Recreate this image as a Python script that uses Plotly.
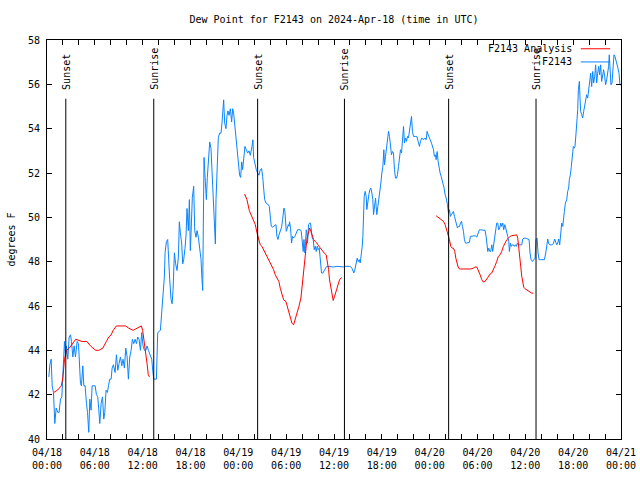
import plotly.graph_objects as go
import pandas as pd

BASE = pd.Timestamp("2024-04-18 00:00")

# Observed dew point (F2143), hours since 2024-04-18 00:00 UTC
obs_hours = [
    0.23, 0.36, 0.52, 0.65, 0.81, 0.98, 1.15, 1.36, 1.52, 1.69, 1.86, 1.94, 2.07, 2.19, 2.32, 2.44,
    2.61, 2.78, 2.95, 3.07, 3.24, 3.40, 3.57, 3.78, 3.95, 4.07, 4.20, 4.32, 4.49, 4.62, 4.78, 4.95,
    5.08, 5.24, 5.37, 5.53, 5.66, 5.87, 6.04, 6.20, 6.37, 6.50, 6.62, 6.79, 6.96, 7.12, 7.25, 7.41,
    7.58, 7.71, 7.87, 8.04, 8.17, 8.33, 8.54, 8.71, 8.88, 9.04, 9.21, 9.38, 9.54, 9.71, 9.88, 10.05,
    10.21, 10.38, 10.55, 10.71, 10.88, 11.05, 11.22, 11.38, 11.55, 11.72, 11.88, 12.05, 12.22, 12.39,
    12.55, 12.72, 12.97, 13.14, 13.26, 13.39, 13.72, 13.80, 13.89, 14.22, 14.43,
    14.56, 14.72, 14.81, 14.98, 15.14, 15.27, 15.39, 15.56, 15.69, 15.81, 15.89, 15.98, 16.14, 16.31,
    16.48, 16.60, 16.73, 16.90, 17.02, 17.15, 17.31, 17.44, 17.56, 17.73, 17.86, 17.98, 18.07, 18.23,
    18.40, 18.53, 18.69, 18.82, 18.99, 19.15, 19.32, 19.44, 19.53, 19.61, 19.70, 19.78, 19.86, 19.99,
    20.11, 20.28, 20.41, 20.57, 20.70, 20.82, 20.99, 21.12, 21.20, 21.32, 21.49, 21.66, 21.83, 21.95,
    22.08, 22.16, 22.29, 22.45, 22.58, 22.70, 22.83, 23.00, 23.16, 23.29, 23.41, 23.54, 23.66, 23.79,
    23.91, 24.04, 24.16, 24.29, 24.42, 24.54, 24.67, 24.83, 25.00, 25.17, 25.33,
    25.50, 25.71, 25.83, 25.92, 26.08, 26.25, 26.42, 26.59, 26.75, 26.92, 27.05, 27.17, 27.30, 27.46,
    27.67, 27.88, 28.01, 28.13, 28.30, 28.51, 28.72, 28.84, 28.97, 29.09, 29.26, 29.43, 29.55, 29.72,
    29.84, 29.93, 30.01, 30.14, 30.26, 30.35, 30.43, 30.55, 30.68, 30.80, 30.93, 31.10, 31.26, 31.43,
    31.60, 31.77, 31.89, 32.02, 32.14, 32.23, 32.35, 32.43, 32.52, 32.60, 32.68, 32.81, 32.94, 33.06,
    33.14, 33.27, 33.39, 33.52, 33.65, 33.77, 33.90, 34.02, 34.15, 34.27, 34.36, 34.44, 34.61, 34.77,
    34.94, 35.11, 35.53, 35.94, 36.36, 36.78, 37.20,
    37.28, 37.62, 38.03, 38.24, 38.37, 38.49, 38.62, 38.79, 38.91, 39.04, 39.16, 39.29, 39.41, 39.54,
    39.62, 39.70, 39.79, 39.91, 40.04, 40.12, 40.25, 40.37, 40.50, 40.62, 40.75, 40.87, 40.96, 41.08,
    41.21, 41.29, 41.37, 41.50, 41.63, 41.75, 41.88, 42.00, 42.13, 42.25, 42.34, 42.46, 42.59, 42.71,
    42.84, 42.96, 43.09, 43.21, 43.34, 43.46, 43.59, 43.71, 43.84, 43.96, 44.09, 44.22, 44.34, 44.47,
    44.59, 44.72, 44.84, 44.97, 45.09, 45.22, 45.34, 45.47, 45.59, 45.72, 45.84, 45.97, 46.18, 46.39,
    46.55, 46.72, 46.85, 47.01, 47.22, 47.43, 47.56, 47.68, 47.81, 47.93, 48.06, 48.23, 48.35, 48.48,
    48.60, 48.73, 48.81, 48.94, 49.06, 49.19, 49.31, 49.44, 49.56,
    49.65, 49.81, 49.94, 50.07, 50.23, 50.36, 50.48, 50.61, 50.73, 50.86, 50.98, 51.11, 51.23, 51.36,
    51.49, 51.61, 51.74, 51.86, 51.99, 52.11, 52.24, 52.36, 52.49, 52.65, 52.86, 52.99, 53.11, 53.28,
    53.49, 53.70, 53.91, 54.12, 54.24, 54.41, 54.62, 54.83, 54.95, 55.08, 55.16, 55.29, 55.41, 55.54,
    55.66, 55.79, 55.91, 56.04, 56.16, 56.29, 56.41, 56.54, 56.66, 56.79, 56.92, 57.04, 57.17, 57.29,
    57.42, 57.54, 57.67, 57.79, 57.92, 58.00, 58.13, 58.25, 58.38, 58.50, 58.63, 58.75, 58.88, 59.00,
    59.13, 59.25,
    59.34, 59.55, 59.67, 59.84, 60.09, 60.34, 60.47, 60.59, 60.72, 60.89, 61.05, 61.22, 61.34, 61.47,
    61.60, 61.72, 61.93, 62.14, 62.39, 62.56, 62.68, 62.81, 62.93, 63.10, 63.31, 63.52, 63.68, 63.81,
    63.94, 64.06, 64.19, 64.31, 64.39, 64.48, 64.56, 64.69, 64.77, 64.90, 65.02, 65.19, 65.31, 65.44,
    65.52, 65.65, 65.77, 65.90, 66.02, 66.15, 66.23, 66.36, 66.48, 66.57, 66.65, 66.78, 66.86, 66.94,
    67.07, 67.19, 67.32, 67.44, 67.57, 67.69, 67.82, 67.95, 68.07, 68.20, 68.32, 68.45, 68.57, 68.70,
    68.82, 68.95, 69.07, 69.20, 69.32, 69.45, 69.57, 69.70, 69.82, 69.95, 70.07, 70.20, 70.33, 70.45,
    70.53, 70.62, 70.74, 70.87, 70.99, 71.12, 71.24, 71.37, 71.49, 71.62, 71.75, 71.87, 72.00,
]
obs_values = [
    42.8, 43.35, 43.6, 42.4, 42.1, 40.7, 41.4, 41.2, 41.2, 41.8, 41.9, 42.7, 43.1, 44.4, 43.7, 44.2,
    43.6, 44.6, 44.7, 44.4, 43.7, 44.2, 43.7, 44.4, 44.3, 43.4, 42.5, 42.4, 43.3, 42.4, 42.4, 41.6,
    41.2, 40.3, 41.8, 41.3, 42.4, 42.4, 42.4, 42.0, 41.9, 41.3, 40.7, 41.6, 41.9, 40.9, 41.2, 42.2,
    42.1, 42.4, 42.7, 42.7, 43.2, 43.35, 43.0, 43.8, 43.1, 43.4, 43.7, 43.3, 43.6, 43.2, 44.1, 43.7,
    42.7, 43.7, 44.0, 44.5, 44.3, 44.5, 44.3, 44.6, 44.5, 44.0, 44.8, 44.2, 44.0, 44.0,
    44.2, 44.0, 43.8, 43.6, 43.1, 42.7, 42.7, 43.7, 44.8, 44.9, 45.9,
    46.7, 47.3, 48.4, 48.9, 49.0, 47.9, 47.2, 46.3, 46.1, 46.7, 47.9, 48.4, 47.9, 47.6,
    48.2, 49.8, 49.3, 48.8, 47.9, 48.1, 48.6, 49.2, 50.4, 49.4, 50.8, 48.5, 49.3, 50.9,
    51.4, 49.4, 49.1, 49.4, 49.1, 48.7, 48.1, 47.2, 46.7, 49.7, 52.7, 52.1, 51.4, 50.8,
    51.8, 52.9, 53.4, 53.1, 52.0, 51.4, 50.0, 48.8, 50.8, 52.3, 53.6, 53.8, 53.8, 54.25,
    54.9, 55.3, 54.25, 54.0, 54.6, 54.8, 54.6, 54.9, 54.3, 54.9, 54.7, 54.25, 53.8, 53.35,
    52.75, 52.5, 51.9, 51.8, 52.5, 52.15, 52.6, 53.2, 53.05, 52.9, 53.0,
    52.8, 53.2, 53.5, 52.7, 52.4, 52.15, 52.0, 51.9, 52.15, 52.2, 51.85, 51.25, 50.8, 50.65,
    50.6, 50.5, 50.1, 49.6, 49.56, 49.6, 49.67, 49.14, 49.0, 49.2, 49.44, 49.56, 49.9, 50.42,
    50.27, 49.67, 49.37, 49.5, 49.67, 49.6, 49.8, 49.5, 48.84, 49.14, 49.07, 49.14, 49.3, 49.44,
    49.44, 49.44, 49.37, 49.0, 48.46, 49.0, 48.39, 48.9, 49.44, 49.3, 48.84, 49.67, 49.74, 49.74,
    49.44, 49.07, 49.0, 48.54, 48.7, 48.46, 48.7, 48.54, 48.61, 48.24, 47.86, 47.49, 47.49, 47.64,
    47.71, 47.79, 47.76, 47.76, 47.79, 47.76, 47.76,
    47.79, 47.79, 47.79, 47.71, 47.56, 47.49, 47.64, 47.94, 48.16, 48.0, 48.09, 47.94, 48.24, 48.69,
    49.14, 50.19, 50.94, 51.17, 50.94, 50.35, 50.87, 51.02, 51.25, 51.32, 51.1, 50.8, 50.12, 50.64,
    50.87, 50.49, 50.12, 50.49, 50.8, 51.25, 51.55, 52.0, 52.3, 53.05, 52.37, 52.75, 53.12, 53.65,
    53.88, 53.65, 53.12, 52.82, 52.97, 52.9, 52.15, 51.77, 51.77, 51.92, 52.3, 52.82, 53.05, 52.9,
    53.65, 54.1, 53.35, 53.58, 53.43, 53.65, 53.58, 53.88, 54.18, 54.55, 53.88, 53.65, 53.65, 53.65,
    53.43, 53.2, 53.43, 53.58, 53.5, 53.58, 53.5, 53.88, 53.73, 53.58, 53.5, 53.35, 53.2, 53.05,
    52.75, 52.82, 52.6, 52.97, 52.52, 52.15, 52.0, 51.85, 51.7,
    51.62, 51.32, 51.02, 50.87, 50.57, 50.19, 50.34, 50.04, 50.12, 50.19, 50.27, 50.04, 49.82, 49.59,
    49.52, 49.59, 49.59, 49.74, 49.82, 49.59, 49.37, 48.99, 48.84, 48.84, 48.84, 48.87, 49.14, 49.14,
    49.17, 49.17, 49.11, 49.29, 49.44, 49.44, 49.44, 49.44, 49.41, 49.14, 48.76, 48.46, 48.61, 48.46,
    48.46, 48.76, 48.46, 48.76, 49.06, 49.37, 49.74, 49.74, 49.44, 49.52, 49.74, 49.59, 49.74, 49.44,
    49.67, 49.52, 49.21, 49.14, 48.91, 48.46, 48.84, 48.69, 48.76, 48.76, 48.69, 48.76, 48.69, 48.84,
    48.76, 48.76,
    48.76, 48.76, 49.02, 49.06, 49.06, 49.03, 48.99, 48.39, 48.09, 48.01, 48.09, 48.16, 48.99, 49.06,
    48.39, 48.09, 48.09, 48.09, 48.09, 48.39, 48.84, 49.02, 48.81, 48.76, 48.76, 48.81, 49.02, 48.84,
    48.76, 48.84, 49.02, 48.76, 49.06, 49.52, 49.74, 49.59, 50.04, 50.27, 50.64, 50.79, 51.17, 51.32,
    51.7, 51.92, 52.3, 52.9, 53.2, 53.12, 53.2, 53.8, 54.4, 54.85, 55.76, 56.13, 55.38, 54.78,
    54.63, 54.48, 54.78, 55.0, 55.15, 55.53, 55.38, 55.76, 56.2, 56.5, 55.9, 56.58, 56.06, 56.36,
    56.88, 56.06, 56.5, 56.81, 56.43, 56.88, 56.13, 56.5, 56.66, 56.36, 55.98, 56.2, 56.58, 56.81,
    57.33, 56.36, 55.98, 56.06, 56.58, 57.33, 57.26, 57.11, 56.88, 56.73, 56.5, 55.98, 55.98,
]

# Analysis (F2143 Analysis) - three separate segments
ana1_hours = [0.85, 1.3, 1.8, 2.0, 2.2, 2.45, 2.8, 3.15, 3.6, 4.4, 5.0, 5.45, 5.75, 6.1, 6.5, 7.0,
              7.45, 7.75, 8.05, 8.3, 8.7, 9.2, 9.85, 10.25, 10.8, 11.3, 11.84, 12.0, 12.2, 12.4,
              12.55, 12.7, 12.85]
ana1_values = [42.1, 42.2, 42.4, 42.8, 43.6, 44.0, 44.1, 44.3, 44.5, 44.4, 44.4, 44.2, 44.1, 44.0,
               44.0, 44.1, 44.4, 44.6, 44.7, 44.9, 45.1, 45.1, 45.1, 45.0, 44.9, 45.0, 45.1, 44.9,
               44.4, 43.8, 43.4, 42.9, 42.8]
ana2_hours = [24.79, 25.08, 25.38, 25.71, 25.92, 26.13, 26.34, 26.54, 26.75, 26.96, 27.17, 27.38,
              27.59, 27.80, 28.01, 28.22, 28.42, 28.63, 28.93, 29.09, 29.26, 29.47, 29.68, 29.97,
              30.18, 30.43, 30.72, 30.93, 31.14, 31.35, 31.60, 31.85, 31.97, 32.10, 32.27, 32.43,
              32.60, 32.81, 32.94, 33.10, 33.27, 33.44, 33.65, 33.85, 34.06, 34.27, 34.48, 34.77,
              35.02, 35.19, 35.32, 35.44, 35.61, 35.78, 35.90, 36.07, 36.28, 36.49, 36.69, 36.95]
ana2_values = [51.05, 50.8, 50.3, 50.04, 49.9, 49.67, 49.3, 49.0, 48.76, 48.69, 48.54, 48.39,
               48.24, 48.09, 47.94, 47.79, 47.64, 47.41, 47.2, 47.1, 46.8, 46.5, 46.28, 46.2,
               45.9, 45.53, 45.23, 45.15, 45.38, 45.68, 45.98, 46.36, 46.73, 47.41, 47.94, 48.39,
               49.0, 49.37, 49.52, 49.37, 49.14, 49.0, 48.9, 48.84, 48.72, 48.61, 48.54, 48.39,
               48.31, 48.0, 47.64, 47.18, 46.88, 46.43, 46.25, 46.43, 46.73, 46.96, 47.18, 47.29]
ana3_hours = [48.81, 49.10, 49.31, 49.52, 49.73, 49.94, 50.15, 50.36, 50.48, 50.65, 50.82, 50.98,
              51.15, 51.28, 51.40, 51.57, 51.74, 52.03, 52.45, 52.86, 53.16, 53.49, 53.70, 53.91,
              54.12, 54.33, 54.53, 54.74, 54.95, 55.16, 55.37, 55.58, 55.79, 56.00, 56.21, 56.41,
              56.62, 56.83, 57.04, 57.25, 57.46, 57.67, 57.88, 58.08, 58.29, 58.50, 58.71, 58.92,
              59.05, 59.17, 59.30, 59.42, 59.55, 59.67, 59.80, 59.96, 60.17, 60.38, 60.59, 60.80,
              61.01]
ana3_values = [50.07, 50.0, 49.92, 49.86, 49.82, 49.67, 49.44, 49.21, 48.99, 48.69, 48.61, 48.61,
               48.46, 48.16, 47.94, 47.76, 47.67, 47.67, 47.64, 47.64, 47.67, 47.71, 47.76, 47.76,
               47.61, 47.41, 47.19, 47.08, 47.11, 47.23, 47.34, 47.44, 47.49, 47.64, 47.82, 48.01,
               48.24, 48.31, 48.46, 48.69, 48.84, 48.99, 49.06, 49.14, 49.17, 49.18, 49.21, 49.21,
               49.06, 48.54, 48.09, 47.79, 47.34, 47.03, 46.85, 46.78, 46.73, 46.70, 46.63, 46.58,
               46.58]

sunset_hours = [2.36, 26.42, 50.38]
sunrise_hours = [13.39, 37.31, 61.34]

tick_hours = [0, 6, 12, 18, 24, 30, 36, 42, 48, 54, 60, 66, 72]
tick_labels = ["04/18<br>00:00", "04/18<br>06:00", "04/18<br>12:00", "04/18<br>18:00",
               "04/19<br>00:00", "04/19<br>06:00", "04/19<br>12:00", "04/19<br>18:00",
               "04/20<br>00:00", "04/20<br>06:00", "04/20<br>12:00", "04/20<br>18:00",
               "04/21<br>00:00"]

FONT = "DejaVu Sans Mono"
BLUE = "#0a84ff"
RED = "#ff0000"


def to_time(hours):
    return [None if h is None else BASE + pd.Timedelta(hours=h) for h in hours]


ana_hours = ana1_hours + [None] + ana2_hours + [None] + ana3_hours
ana_values = ana1_values + [None] + ana2_values + [None] + ana3_values

fig = go.Figure()
fig.add_trace(go.Scatter(x=to_time(obs_hours), y=obs_values, mode="lines",
                         line=dict(color=BLUE, width=1), name="F2143"))
fig.add_trace(go.Scatter(x=to_time(ana_hours), y=ana_values, mode="lines",
                         line=dict(color=RED, width=1), name="F2143 Analysis",
                         connectgaps=False))

shapes = []
annotations = []
for label, hours in (("Sunset", sunset_hours), ("Sunrise", sunrise_hours)):
    for t in to_time(hours):
        shapes.append(dict(type="line", xref="x", yref="y", x0=t, x1=t, y0=40, y1=55.35,
                           line=dict(color="black", width=1)))
        annotations.append(dict(x=t, y=55.65, xref="x", yref="y", text=label, textangle=-90,
                                showarrow=False, xanchor="center", yanchor="bottom",
                                font=dict(family=FONT, size=10, color="black")))

# legend (text left of line sample)
for name, color, ypos in (("F2143 Analysis", RED, 0.978), ("F2143", BLUE, 0.945)):
    annotations.append(dict(x=0.918, y=ypos, xref="paper", yref="paper", text=name,
                            showarrow=False, xanchor="right", yanchor="middle",
                            font=dict(family=FONT, size=10, color="black")))
    shapes.append(dict(type="line", xref="paper", yref="paper", x0=0.930, x1=0.981,
                       y0=ypos, y1=ypos, line=dict(color=color, width=1)))

fig.update_layout(
    width=640, height=480,
    margin=dict(l=47, r=19, t=40, b=41, autoexpand=False),
    paper_bgcolor="white", plot_bgcolor="white",
    font=dict(family=FONT, size=10, color="black"),
    showlegend=False,
    hovermode=False,
    title=dict(text="Dew Point for F2143 on 2024-Apr-18 (time in UTC)",
               x=0.5, xref="paper", xanchor="center", y=1 - 19 / 480, yref="container",
               yanchor="middle", font=dict(family=FONT, size=10, color="black")),
    shapes=shapes, annotations=annotations,
)
fig.update_xaxes(
    type="date", range=[BASE, BASE + pd.Timedelta(hours=72)],
    showline=True, linecolor="black", linewidth=1, mirror="ticks",
    ticks="inside", ticklen=5, tickcolor="black", tickwidth=1,
    tickmode="array", tickvals=to_time(tick_hours), ticktext=tick_labels,
    ticklabelstandoff=4,
    minor=dict(ticks="inside", ticklen=5, tickcolor="black", dtick=2 * 3600 * 1000,
               tick0=BASE, showgrid=False),
    showgrid=False, zeroline=False, automargin=False,
)
fig.update_yaxes(
    range=[40, 58], dtick=2, tick0=40,
    showline=True, linecolor="black", linewidth=1, mirror="ticks",
    ticks="inside", ticklen=5, tickcolor="black", tickwidth=1,
    ticklabelstandoff=4,
    showgrid=False, zeroline=False, automargin=False,
    title=dict(text="degrees F", standoff=10, font=dict(family=FONT, size=10)),
)

fig.write_html("out.html", config={"displayModeBar": False, "staticPlot": True},
               post_script="document.body.style.margin='0';document.body.style.padding='0';")
